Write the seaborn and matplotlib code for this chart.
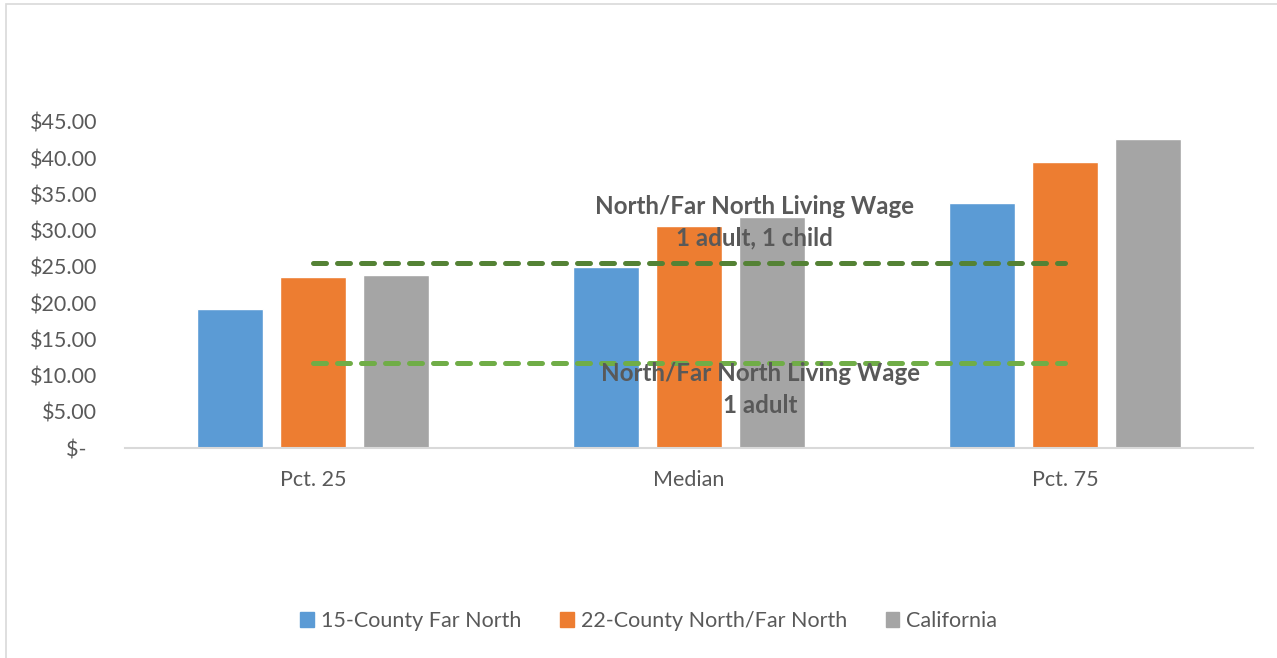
import matplotlib
matplotlib.use('Agg')
import matplotlib.pyplot as plt
import matplotlib.patches as mpatches
import pandas as pd
import seaborn as sns

# data
categories = ['Pct. 25', 'Median', 'Pct. 75']
series_names = ['15-County Far North', '22-County North/Far North', 'California']
far_north_15 = [19.2, 25.0, 33.8]
north_far_north_22 = [23.6, 30.6, 39.5]
california = [23.9, 31.9, 42.6]
living_wage_1_adult = 11.7
living_wage_1_adult_1_child = 25.6
y_ticks = [0, 5, 10, 15, 20, 25, 30, 35, 40, 45]

colors = ['#5B9BD5', '#ED7D31', '#A5A5A5']
text_gray = '#595959'

df = pd.DataFrame({
    'category': categories * 3,
    'series': [s for s in series_names for _ in categories],
    'wage': far_north_15 + north_far_north_22 + california,
})

sns.set_style('white')
plt.rcParams['font.family'] = ['Lato', 'DejaVu Sans']

fig = plt.figure(figsize=(12.77, 6.58), dpi=100)
ax = fig.add_axes([0.0979, 0.3191, 0.8833, 0.4955])

sns.barplot(data=df, x='category', y='wage', hue='series', order=categories,
            hue_order=series_names, palette=colors, width=0.662, gap=0.205,
            saturation=1, errorbar=None, legend=False, ax=ax)

# living wage reference lines
dash = (0, (2.6, 2.2))
ax.hlines(living_wage_1_adult_1_child, 0, 2, colors='#548235', linewidth=3.6,
          linestyles=dash, zorder=5)
ax.hlines(living_wage_1_adult, 0, 2, colors='#70AD47', linewidth=3.6,
          linestyles=dash, zorder=5)
for ln in ax.collections:
    ln.set_capstyle('round')

ax.text(1.173, 31.2, 'North/Far North Living Wage\n1 adult, 1 child', ha='center',
        va='center', fontsize=17.4, fontweight='bold', color=text_gray,
        linespacing=1.45, zorder=6)
ax.text(1.189, 8.1, 'North/Far North Living Wage\n1 adult', ha='center',
        va='center', fontsize=17.4, fontweight='bold', color=text_gray,
        linespacing=1.45, zorder=6)

ax.set_xlim(-0.5, 2.5)
ax.set_ylim(0, 45)
ax.set_yticks(y_ticks)
ax.set_yticklabels(['$-  ' if v == 0 else f'${v:.2f}' for v in y_ticks])
ax.set_xlabel('')
ax.set_ylabel('')
ax.tick_params(axis='both', length=0, labelsize=15.5, labelcolor=text_gray)
ax.tick_params(axis='x', pad=16)
ax.tick_params(axis='y', pad=20)
for side in ['top', 'left', 'right']:
    ax.spines[side].set_visible(False)
ax.spines['bottom'].set_color('#D9D9D9')
ax.spines['bottom'].set_linewidth(1.5)

handles = [mpatches.Patch(color=c, label=n) for c, n in zip(colors, series_names)]
fig.legend(handles=handles, loc='center', bbox_to_anchor=(0.508, 0.056), ncol=3,
           frameon=False, fontsize=15.5, handlelength=0.65, handleheight=0.65,
           handletextpad=0.3, columnspacing=1.8, labelcolor=text_gray)

# chart-area border
fig.patches.append(mpatches.Rectangle((0.0047, -0.01), 1.2, 1.0039,
                                      transform=fig.transFigure, fill=False,
                                      edgecolor='#D9D9D9', linewidth=1.2))

fig.savefig('out.png', dpi=100)
